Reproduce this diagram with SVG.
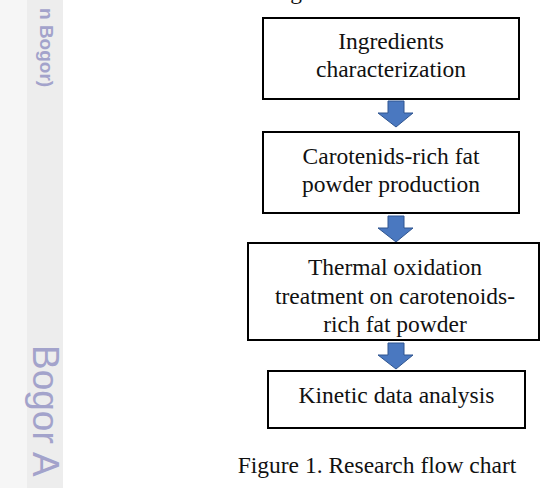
<svg xmlns="http://www.w3.org/2000/svg" width="541" height="488" viewBox="0 0 541 488">
<defs>
<style>
.box{fill:#fff;stroke:#000;stroke-width:2}
.t{font-family:"Liberation Serif","Times New Roman",serif;font-size:23.5px;fill:#111;text-anchor:middle}
.arr{fill:#4a78c0;stroke:#2f5590;stroke-width:1}
.wm{font-family:"Liberation Sans",Arial,sans-serif;fill:#a3a3cb}
</style>
</defs>
<rect x="0" y="0" width="541" height="488" fill="#fff"/>
<rect x="0" y="0" width="27" height="488" fill="#f6f6f6"/>
<rect x="27" y="0" width="36" height="488" fill="#ededed"/>
<text class="wm" font-size="19" font-weight="bold" transform="translate(40,8) rotate(90)">n Bogor)</text>
<text class="wm" font-size="37" transform="translate(33,345) rotate(90)">Bogor A</text>
<text class="t" x="296" y="-1">g</text>
<g id="connectors">
<path class="arr" d="M388,101 H404 V113 H413 L396,127 L378,113 H388 Z"/>
<path class="arr" d="M388,216 H404 V228 H413 L396,242 L378,228 H388 Z"/>
<path class="arr" d="M388,343 H404 V355 H413 L396,369 L378,355 H388 Z"/>
</g>
<g id="n1">
<rect class="box" x="263" y="18" width="256" height="81"/>
<text class="t" x="391" y="49">Ingredients</text>
<text class="t" x="391" y="77">characterization</text>
</g>
<g id="n2">
<rect class="box" x="263" y="132" width="256" height="81"/>
<text class="t" x="391" y="164">Carotenids-rich fat</text>
<text class="t" x="391" y="192">powder production</text>
</g>
<g id="n3">
<rect class="box" x="248" y="243" width="291" height="97"/>
<text class="t" x="395" y="275">Thermal oxidation</text>
<text class="t" x="395" y="304">treatment on carotenoids-</text>
<text class="t" x="395" y="332">rich fat powder</text>
</g>
<g id="n4">
<rect class="box" x="268" y="371" width="257" height="57"/>
<text class="t" x="396.5" y="403">Kinetic data analysis</text>
</g>
<text class="t" x="377" y="473">Figure 1. Research flow chart</text>
</svg>
